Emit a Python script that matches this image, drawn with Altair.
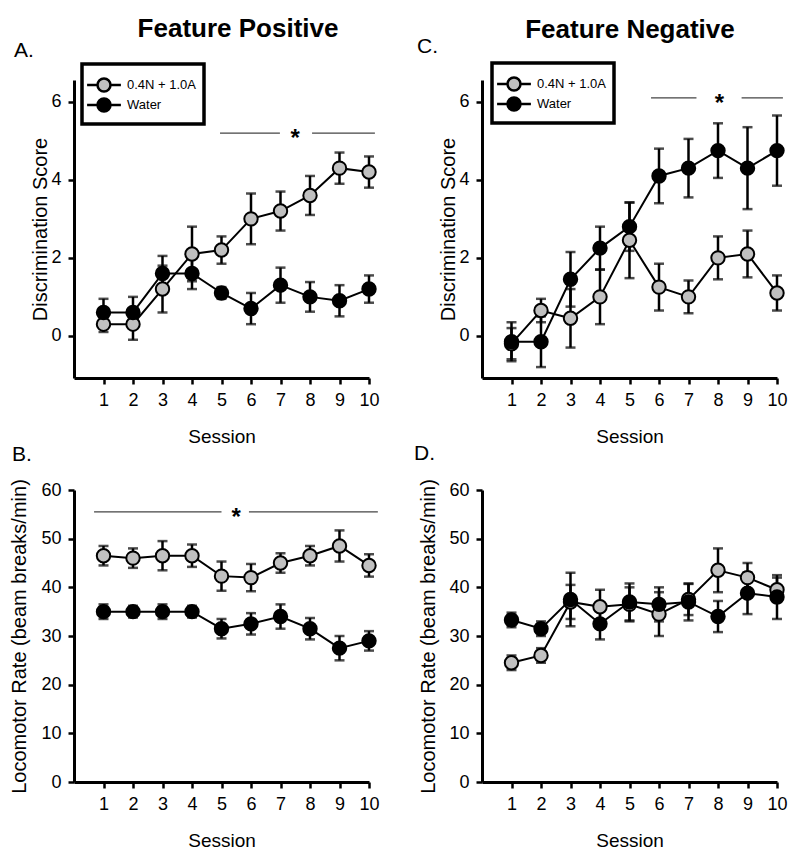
import altair as alt
import pandas as pd

sessions = list(range(1, 11))
groups = ["0.4N + 1.0A", "Water"]

# Panel A: Feature Positive, Discrimination Score
a_drug = [0.3, 0.3, 1.2, 2.1, 2.2, 3.0, 3.2, 3.6, 4.3, 4.2]
a_drug_err = [0.2, 0.4, 0.6, 0.7, 0.35, 0.65, 0.5, 0.5, 0.4, 0.4]
a_water = [0.6, 0.6, 1.6, 1.6, 1.1, 0.7, 1.3, 1.0, 0.9, 1.2]
a_water_err = [0.35, 0.4, 0.45, 0.4, 0.15, 0.4, 0.45, 0.38, 0.4, 0.35]

# Panel C: Feature Negative, Discrimination Score
c_drug = [-0.2, 0.65, 0.45, 1.0, 2.45, 1.25, 1.0, 2.0, 2.1, 1.1]
c_drug_err = [0.4, 0.3, 0.75, 0.7, 0.97, 0.6, 0.42, 0.55, 0.6, 0.45]
c_water = [-0.15, -0.15, 1.45, 2.25, 2.8, 4.1, 4.3, 4.75, 4.3, 4.75]
c_water_err = [0.5, 0.65, 0.7, 0.55, 0.62, 0.7, 0.75, 0.7, 1.05, 0.9]

# Panel B: Feature Positive, Locomotor Rate
b_drug = [46.5, 46.0, 46.5, 46.5, 42.3, 42.0, 45.0, 46.5, 48.5, 44.5]
b_drug_err = [2.0, 2.0, 3.0, 2.3, 3.0, 2.8, 2.0, 2.0, 3.2, 2.3]
b_water = [35.0, 35.0, 35.0, 35.0, 31.5, 32.5, 34.0, 31.5, 27.5, 29.0]
b_water_err = [1.5, 1.2, 1.5, 1.2, 2.0, 2.2, 2.5, 2.2, 2.5, 2.0]

# Panel D: Feature Negative, Locomotor Rate
d_drug = [24.5, 26.0, 37.0, 36.0, 36.5, 34.5, 37.5, 43.5, 42.0, 39.5]
d_drug_err = [1.5, 1.5, 3.5, 3.5, 3.5, 4.5, 3.2, 4.5, 3.0, 2.5]
d_water = [33.3, 31.5, 37.5, 32.5, 37.0, 36.5, 37.0, 34.0, 38.8, 38.0]
d_water_err = [1.5, 1.5, 5.5, 3.2, 3.8, 3.5, 3.8, 3.2, 4.3, 4.5]

# significance bars: (segment starts, segment ends, y, star x)
a_sig_x = [4.95, 8.07]; a_sig_x2 = [6.98, 10.2]; a_sig_y = 5.2; a_star_x = 7.5
c_sig_x = [5.73, 8.8]; c_sig_x2 = [7.27, 10.2]; c_sig_y = 6.1; c_star_x = 8.05
b_sig_x = [0.68, 5.93]; b_sig_x2 = [5.0, 10.3]; b_sig_y = 55.5; b_star_x = 5.5

FONT = "Liberation Sans"
GRAY = "#c0c0c0"

legend_path = ("M-2.6,0L-1,0M1,0L2.6,0M1,0C1,0.5523,0.5523,1,0,1C-0.5523,1,-1,0.5523,-1,0"
               "C-1,-0.5523,-0.5523,-1,0,-1C0.5523,-1,1,-0.5523,1,0Z")


def frame(drug, drug_err, water, water_err):
    rows = []
    for g, m, e in ((groups[0], drug, drug_err), (groups[1], water, water_err)):
        for s, v, er in zip(sessions, m, e):
            rows.append({"session": s, "group": g, "mean": v, "lo": v - er, "hi": v + er})
    return pd.DataFrame(rows)


def panel(df, ydomain, yticks, ytitle, title_pad, letter, letter_xy, head, head_xy,
          legend_xy=None, sig=None, width=295, height=298):
    xs = alt.Scale(domain=[0, 10], nice=False)
    ys = alt.Scale(domain=ydomain, nice=False, zero=False)
    x_axis = alt.Axis(values=sessions, title="Session", labelOverlap=False,
                      titleFontSize=19, labelFlush=False)
    y_axis = alt.Axis(values=yticks, title=ytitle, titlePadding=title_pad,
                      labelOverlap=False, titleFontSize=20)

    def X(field):
        return alt.X(field, scale=xs, axis=x_axis, title="Session")

    def Y(field):
        return alt.Y(field, scale=ys, axis=y_axis, title=ytitle)

    base = alt.Chart(df)
    rules = base.mark_rule(color="black", strokeWidth=2.5).encode(
        x=X("session:Q"), y=Y("lo:Q"), y2="hi:Q")
    cap_lo = base.mark_tick(color="black", thickness=2.5, size=10, orient="horizontal").encode(
        x=X("session:Q"), y=Y("lo:Q"))
    cap_hi = base.mark_tick(color="black", thickness=2.5, size=10, orient="horizontal").encode(
        x=X("session:Q"), y=Y("hi:Q"))
    line = base.mark_line(color="black", strokeWidth=2).encode(
        x=X("session:Q"), y=Y("mean:Q"), detail="group:N")
    if legend_xy is not None:
        leg = alt.Legend(title=" ", titleFontSize=1, titlePadding=5,
                         orient="none", legendX=legend_xy[0], legendY=legend_xy[1],
                         symbolType=legend_path, symbolSize=169, symbolStrokeColor="black",
                         symbolStrokeWidth=2.5, symbolOffset=7, labelOffset=15,
                         labelFontSize=13, labelFont=FONT, labelColor="black",
                         strokeColor="black", padding=7, rowPadding=-6, symbolOpacity=1)
    else:
        leg = None
    pts = base.mark_point(shape="circle", filled=True, stroke="black", strokeWidth=2,
                          size=180, opacity=1).encode(
        x=X("session:Q"), y=Y("mean:Q"),
        fill=alt.Fill("group:N", scale=alt.Scale(domain=groups, range=[GRAY, "black"]),
                      legend=leg, sort=groups),
        order=alt.Order("gorder:Q"))
    pts = pts.transform_calculate(gorder="datum.group == 'Water' ? 1 : 0")
    layers = [rules, cap_lo, cap_hi, line, pts]
    if sig is not None:
        sx, sx2, sy, starx = sig
        sdf = pd.DataFrame({"x": sx, "x2": sx2, "y": [sy] * len(sx)})
        layers.append(alt.Chart(sdf).mark_rule(color="#444444", strokeWidth=1.3).encode(
            x=X("x:Q"), x2="x2:Q", y=Y("y:Q")))
        stdf = pd.DataFrame({"x": [starx], "y": [sy], "t": ["*"]})
        layers.append(alt.Chart(stdf).mark_text(font=FONT, fontSize=24, fontWeight="bold",
                                                 baseline="alphabetic", dy=13, color="black").encode(
            x=X("x:Q"), y=Y("y:Q"), text="t:N"))
    ldf = pd.DataFrame({"t": [letter]})
    layers.append(alt.Chart(ldf).mark_text(font=FONT, fontSize=21, align="left",
                                            baseline="alphabetic", color="black").encode(
        x=alt.value(letter_xy[0]), y=alt.value(letter_xy[1]), text="t:N"))
    if head:
        hdf = pd.DataFrame({"t": [head]})
        layers.append(alt.Chart(hdf).mark_text(font=FONT, fontSize=26, fontWeight="bold",
                                                align="center", baseline="alphabetic",
                                                color="black").encode(
            x=alt.value(head_xy[0]), y=alt.value(head_xy[1]), text="t:N"))
    return alt.layer(*layers).properties(width=width, height=height)


A = panel(frame(a_drug, a_drug_err, a_water, a_water_err), [-1.08, 6.56], [0, 2, 4, 6],
          "Discrimination Score", 0, "A.", (-60, -23), "Feature Positive", (164, -43),
          legend_xy=(8, -16), sig=(a_sig_x, a_sig_x2, a_sig_y, a_star_x))
C = panel(frame(c_drug, c_drug_err, c_water, c_water_err), [-1.08, 6.56], [0, 2, 4, 6],
          "Discrimination Score", 0, "C.", (-65, -27), "Feature Negative", (148, -42),
          legend_xy=(10, -17), sig=(c_sig_x, c_sig_x2, c_sig_y, c_star_x))
B = panel(frame(b_drug, b_drug_err, b_water, b_water_err), [0, 60], [0, 10, 20, 30, 40, 50, 60],
          "Locomotor Rate (beam breaks/min)", 11, "B.", (-62, -29), None, None,
          sig=(b_sig_x, b_sig_x2, b_sig_y, b_star_x), height=292)
D = panel(frame(d_drug, d_drug_err, d_water, d_water_err), [0, 60], [0, 10, 20, 30, 40, 50, 60],
          "Locomotor Rate (beam breaks/min)", 10, "D.", (-68, -30), None, None, height=292)

chart = alt.concat(A, C, B, D, columns=2, bounds="flush",
                   spacing={"row": 112, "column": 113}).resolve_scale(
    fill="independent", x="independent", y="independent").resolve_legend(fill="independent").properties(
    padding={"left": 1, "top": 8, "right": 0, "bottom": 0}, background="white"
).configure_view(stroke=None).configure_axis(
    grid=False, domainColor="black", domainWidth=3, tickColor="black", tickWidth=2.5,
    tickSize=6, labelFont=FONT, labelFontSize=18, labelColor="black", labelPadding=7,
    labelOverlap=False, titleFont=FONT, titleFontWeight="normal", titleColor="black"
).configure_axisX(titlePadding=18).configure_legend(strokeWidth=3.5)

chart.save("out.html", embed_options={"renderer": "svg", "actions": False})
